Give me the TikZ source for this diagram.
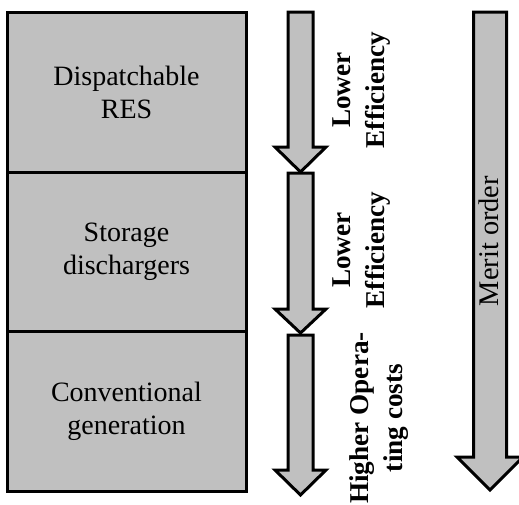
\documentclass[tikz,border=0pt]{standalone}
\usepackage{fontspec}
\setmainfont{Liberation Serif}

\tikzset{
    block/.style = {
        draw,
        line width=1.5pt,
        fill=boxgray,
        minimum width=119.5pt,
        minimum height=80pt,
        align=center,
        font=\fontsize{14}{16.5}\selectfont
    },
    bigarrow/.style = {
        draw,
        line width=1.5pt,
        fill=boxgray,
        line join=miter
    },
    note/.style = {
        rotate=90,
        align=center,
        font=\fontsize{13.6}{17}\selectfont\bfseries
    },
    order/.style = {
        rotate=90,
        font=\fontsize{14.2}{17}\selectfont
    }
}
\definecolor{boxgray}{RGB}{192,192,192}

\begin{document}
\begin{tikzpicture}[x=0.5pt,y=-0.5pt]
    \clip (0,0) rectangle (519,504);

    % Draw blocks
    \node[block] (res)     at (126.5, 92) {Dispatchable\\RES};
    \node[block] (storage) at (126.5,252) {Storage\\dischargers};
    \node[block] (conv)    at (126.5,411) {Conventional\\generation};

    % Draw arrows
    \draw[bigarrow] (288, 12) -- (313, 12) -- (313,147) -- (326,147) -- (300.5,172) -- (275,147) -- (288,147) -- cycle;
    \draw[bigarrow] (288,173) -- (313,173) -- (313,309) -- (326,309) -- (300.5,333) -- (275,309) -- (288,309) -- cycle;
    \draw[bigarrow] (288,335) -- (313,335) -- (313,470) -- (326,470) -- (300.5,495) -- (275,470) -- (288,470) -- cycle;
    %
    \draw[bigarrow] (473.5,12) -- (506.5,12) -- (506.5,457) -- (523,457) -- (490,490) -- (457,457) -- (473.5,457) -- cycle;

    % Draw labels
    \node[note]  (eff1)  at (362, 90) {Lower\\Efficiency};
    \node[note]  (eff2)  at (362,250) {Lower\\Efficiency};
    \node[note]  (cost)  at (379,418) {Higher Opera-\\ting costs};
    \node[order] (merit) at (489,241) {Merit order};
\end{tikzpicture}
\end{document}
